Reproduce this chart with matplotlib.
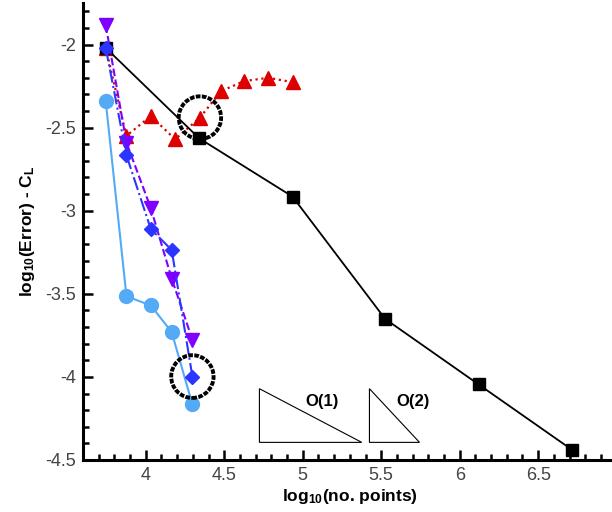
import numpy as np
import matplotlib
matplotlib.use("Agg")
import matplotlib.pyplot as plt
from matplotlib.patches import Ellipse, Polygon
from matplotlib.ticker import MultipleLocator

plt.rcParams['font.family'] = ['Liberation Sans', 'DejaVu Sans']
plt.rcParams['mathtext.fontset'] = 'custom'
plt.rcParams['mathtext.rm'] = 'Liberation Sans:bold'
plt.rcParams['mathtext.default'] = 'rm'

# convergence data: log10(no. points) vs log10(error) in C_L
x_coarse = [3.745, 4.34, 4.935, 5.525, 6.12, 6.716]
y_coarse = [-2.02, -2.564, -2.915, -3.651, -4.045, -4.439]

x_red = [3.745, 3.876, 4.032, 4.187, 4.345, 4.48, 4.627, 4.78, 4.94]
y_red = [-2.02, -2.55, -2.43, -2.57, -2.44, -2.28, -2.22, -2.20, -2.227]

x_fine = [3.745, 3.877, 4.032, 4.165, 4.297]
y_purple = [-1.883, -2.59, -2.984, -3.408, -3.776]
y_blue = [-2.02, -2.667, -3.11, -3.236, -3.998]
y_light = [-2.342, -3.515, -3.57, -3.73, -4.166]

# highlighted points
circle_x = [4.345, 4.297]
circle_y = [-2.44, -3.998]

# order-of-accuracy triangles
tri1_x = [4.724, 4.724, 5.376]
tri1_y = [-4.071, -4.394, -4.394]
tri2_x = [5.425, 5.425, 5.744]
tri2_y = [-4.071, -4.394, -4.394]


def main():
    fig = plt.figure(figsize=(6.12, 5.12), dpi=100)
    ax = fig.add_axes([0.1356, 0.1016, 0.872, 0.8925])

    ax.plot(x_coarse, y_coarse, '-', color='black', lw=1.3,
            marker='s', ms=9, zorder=3)
    ax.plot(x_red, y_red, ':', color='#dd0000', lw=1.6,
            marker='^', ms=10, zorder=2)
    ax.plot(x_fine, y_light, '-', color='#55aaf5', lw=1.5,
            marker='o', ms=10, zorder=2)
    ax.plot(x_fine, y_purple, '--', color='#8000ff', lw=1.5,
            marker='v', ms=10, zorder=4)
    ax.plot(x_fine, y_blue, '-.', color='#2a36ff', lw=1.5,
            marker='D', ms=7.5, zorder=5)

    # beaded rings round the highlighted points
    for cx, cy in zip(circle_x, circle_y):
        ax.add_patch(Ellipse((cx, cy), 0.27, 0.257, fill=False,
                             ec='black', lw=2.8, ls=(0, (1.2, 0.35)),
                             zorder=6))

    for tx, ty in ((tri1_x, tri1_y), (tri2_x, tri2_y)):
        ax.add_patch(Polygon(np.column_stack([tx, ty]), closed=True,
                             fill=False, ec='black', lw=0.8))
    ax.text(5.126, -4.15, 'O(1)', fontsize=12, fontweight='bold',
            ha='center', va='center')
    ax.text(5.70, -4.15, 'O(2)', fontsize=12, fontweight='bold',
            ha='center', va='center')

    ax.set_xlim(3.6, 7.0)
    ax.set_ylim(-4.5, -1.75)
    ax.xaxis.set_major_locator(MultipleLocator(0.5))
    ax.xaxis.set_minor_locator(MultipleLocator(0.1))
    ax.yaxis.set_major_locator(MultipleLocator(0.5))
    ax.yaxis.set_minor_locator(MultipleLocator(0.1))
    ax.xaxis.set_major_formatter(plt.FuncFormatter(lambda v, p: f'{v:g}'))
    ax.yaxis.set_major_formatter(plt.FuncFormatter(lambda v, p: f'{v:g}'))

    ax.tick_params(which='both', direction='in', width=1.8, labelsize=13,
                   labelcolor='#444444', top=False, right=False)
    ax.tick_params(which='major', length=7, pad=5)
    ax.tick_params(which='minor', length=4)
    for side in ('top', 'right'):
        ax.spines[side].set_visible(False)
    for side in ('left', 'bottom'):
        ax.spines[side].set_linewidth(2.2)

    ax.set_xlabel(r'log$_{10}$(no. points)', fontsize=12.5,
                  fontweight='bold', labelpad=2)
    ax.set_ylabel(r'log$_{10}$(Error) - C$_L$', fontsize=12.5,
                  fontweight='bold', labelpad=6)

    fig.savefig('out.png', dpi=100)


if __name__ == "__main__":
    main()
